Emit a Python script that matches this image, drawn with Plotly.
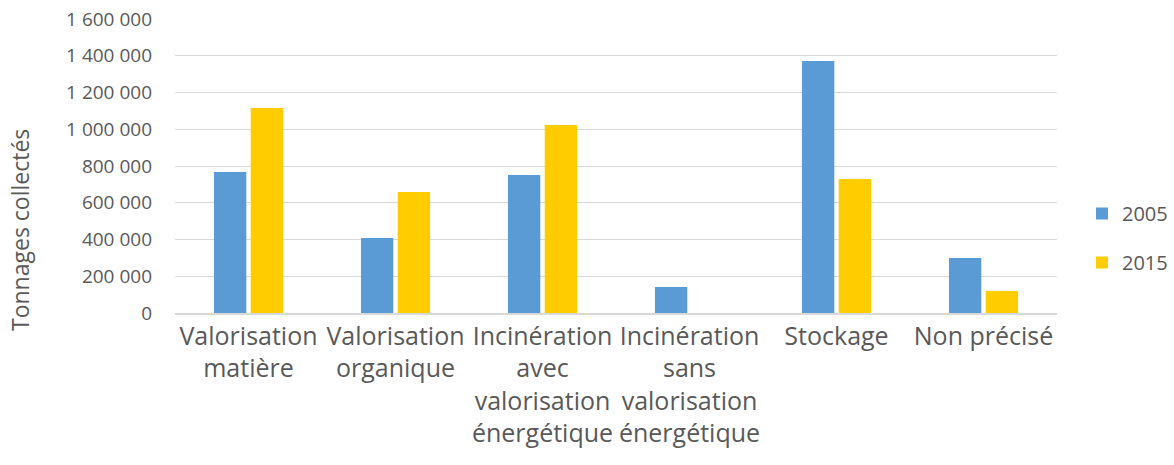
import plotly.graph_objects as go

categories = [
    "Valorisation<br>matière",
    "Valorisation<br>organique",
    "Incinération<br>avec<br>valorisation<br>énergétique",
    "Incinération<br>sans<br>valorisation<br>énergétique",
    "Stockage",
    "Non précisé",
]
values_2005 = [767000, 408000, 751000, 141000, 1371000, 299000]
values_2015 = [1116000, 659000, 1023000, 0, 729000, 120000]
y_ticks = [0, 200000, 400000, 600000, 800000, 1000000, 1200000, 1400000, 1600000]

FONT = "Open Sans"
GREY = "#595959"

W, H = 1174, 465
L, R, T, B = 175, 117, 19, 152
PW, PH = W - L - R, H - T - B

fig = go.Figure()
fig.add_trace(go.Bar(name="2005", x=categories, y=values_2005,
                     marker=dict(color="#5B9BD5", line=dict(width=0)), legendgroup="a"))
fig.add_trace(go.Bar(name="2015", x=categories, y=values_2015,
                     marker=dict(color="#FFCC00", line=dict(width=0)), legendgroup="b"))

fig.update_layout(
    width=W, height=H,
    margin=dict(l=L, r=R, t=T, b=B, autoexpand=False),
    paper_bgcolor="white", plot_bgcolor="white",
    separators=", ",
    barmode="group", bargap=0.5, bargroupgap=0.12,
    font=dict(family=FONT, color=GREY),
    legend=dict(xref="container", yref="container", x=1082 / W, y=1 - 238 / H,
                xanchor="left", yanchor="middle",
                font=dict(size=20, color=GREY), tracegroupgap=20,
                itemwidth=30),
    showlegend=True,
    annotations=[dict(text="Tonnages collectés", textangle=-90, showarrow=False,
                      xref="paper", yref="paper", x=(20 - L) / PW, y=(H - B - 230) / PH,
                      xanchor="center", yanchor="middle",
                      font=dict(size=23, color=GREY))],
)
fig.update_xaxes(
    showline=True, linecolor="#D9D9D9", linewidth=1.5, automargin=False,
    ticks="", tickfont=dict(size=25, color=GREY), tickangle=0,
)
fig.update_yaxes(
    range=[0, 1600000], tickvals=y_ticks, tickformat=",d", automargin=False,
    showgrid=True, gridcolor="#D9D9D9", gridwidth=1.2,
    zeroline=False, ticks="", showline=False,
    tickfont=dict(size=19, color=GREY), ticklabeloverflow="allow",
    ticklabelstandoff=22,
)

fig.write_html("out.html", config={"displayModeBar": False},
               post_script="document.body.style.margin='0';")
